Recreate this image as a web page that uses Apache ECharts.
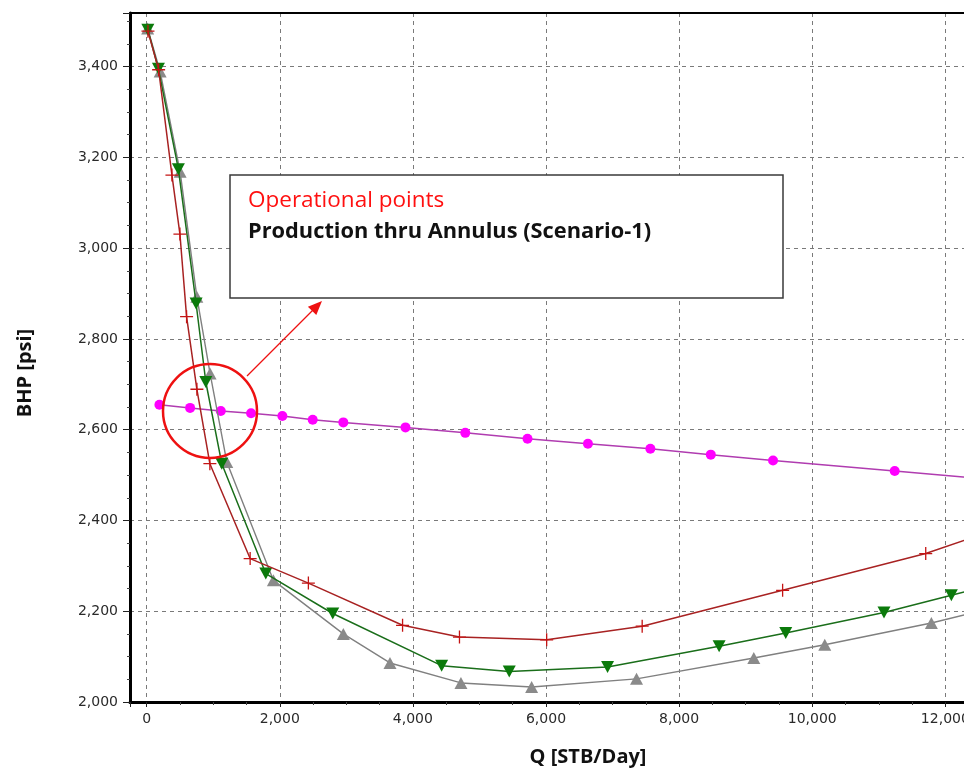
<!DOCTYPE html>
<html>
<head>
<meta charset="utf-8">
<script src="https://cdn.jsdelivr.net/npm/echarts@6/dist/echarts.min.js"></script>
<style>
  html, body { margin: 0; padding: 0; background: #fff; }
  #chart { width: 975px; height: 776px; }
</style>
</head>
<body>
<div id="chart"></div>
<script>
// Tubing performance curves (Q in STB/Day, BHP in psi)
const qRed = [20, 180, 380, 500, 600, 755, 950, 1555, 2430, 3845, 4700, 6010, 7445, 9555, 11705, 12700];
const pRed = [3478, 3393, 3161, 3031, 2849, 2689, 2525, 2316, 2262, 2169, 2143, 2137, 2167, 2246, 2327, 2377];

const qGreen = [18, 177, 477, 743, 889, 1129, 1790, 2796, 4432, 5448, 6925, 8601, 9602, 11078, 12090, 12700];
const pGreen = [3481, 3395, 3174, 2878, 2705, 2525, 2283, 2195, 2080, 2067, 2077, 2123, 2152, 2197, 2235, 2258];

const qGray = [15, 203, 503, 754, 953, 1204, 1904, 2955, 3656, 4722, 5784, 7360, 9122, 10188, 11790, 12700];
const pGray = [3484, 3389, 3168, 2893, 2724, 2529, 2268, 2150, 2086, 2042, 2033, 2051, 2097, 2126, 2174, 2207];

// Inflow performance relationship
const qIpr = [192, 653, 1114, 1569, 2039, 2495, 2955, 3889, 4787, 5722, 6630, 7568, 8476, 9411, 11239, 12700];
const pIpr = [2655, 2648, 2641, 2636, 2630, 2622, 2616, 2605, 2593, 2580, 2569, 2558, 2545, 2532, 2509, 2490];

// Axis ranges and tick steps
const xRange = [-250, 12280];
const xStep = 2000;
const yRange = [2000, 3518];
const yStep = 200;

const xTitle = 'Q [STB/Day]';
const yTitle = 'BHP [psi]';
const noteTitle = 'Operational points';
const noteText = 'Production thru Annulus (Scenario-1)';

const pairs = (xs, ys) => xs.map((x, i) => [x, ys[i]]);
const thousands = v => String(v).replace(/\B(?=(\d{3})+(?!\d))/g, ',');

const plusPath = 'path://M9,0H11V9H20V11H11V20H9V11H0V9H9Z';

const chart = echarts.init(document.getElementById('chart'), null, { renderer: 'canvas' });

const tickFont = { fontFamily: 'DejaVu Sans', fontSize: 14, color: '#2a2a2a' };
const gridLine = { show: true, showMinLine: false, showMaxLine: false,
  lineStyle: { type: [4, 4], color: '#7a7a7a', width: 1 } };

chart.setOption({
  animation: false,
  backgroundColor: '#fff',
  grid: { left: 130, right: 11, top: 13, bottom: 74, containLabel: false },
  xAxis: [{
    type: 'value', min: xRange[0], max: xRange[1], splitNumber: 6,
    axisLine: { show: true, onZero: false, lineStyle: { color: '#000', width: 3 } },
    axisTick: { show: true, length: 5, lineStyle: { color: '#222', width: 1 } },
    minorTick: { show: true, splitNumber: 4, length: 3, lineStyle: { color: '#444', width: 1 } },
    axisLabel: Object.assign({}, tickFont, {
      margin: 10, showMinLabel: false, showMaxLabel: false,
      formatter: v => (v >= 0 && v % xStep === 0) ? thousands(v) : ''
    }),
    splitLine: gridLine
  }, {
    type: 'value', position: 'top', min: xRange[0], max: xRange[1],
    axisLine: { show: true, onZero: false, lineStyle: { color: '#000', width: 2 } },
    axisTick: { show: false }, axisLabel: { show: false }, splitLine: { show: false }
  }],
  yAxis: {
    type: 'value', min: yRange[0], max: yRange[1], interval: yStep,
    axisLine: { show: true, onZero: false, lineStyle: { color: '#000', width: 3 } },
    axisTick: { show: true, length: 7, lineStyle: { color: '#222', width: 1 } },
    minorTick: { show: true, splitNumber: 4, length: 3, lineStyle: { color: '#444', width: 1 } },
    axisLabel: Object.assign({}, tickFont, {
      margin: 12, showMaxLabel: false,
      formatter: v => (v % yStep === 0) ? thousands(v) : ''
    }),
    splitLine: gridLine
  },
  series: [
    {
      type: 'line', name: 'IPR', data: pairs(qIpr, pIpr), clip: true, z: 2,
      symbol: 'circle', symbolSize: 10,
      lineStyle: { color: '#b03cb0', width: 1.5 },
      itemStyle: { color: '#ff00ff' }
    },
    {
      type: 'line', name: 'Gray', data: pairs(qGray, pGray), clip: true, z: 3,
      symbol: 'triangle', symbolSize: [13, 12],
      lineStyle: { color: '#808080', width: 1.4 },
      itemStyle: { color: '#8a8a8a' }
    },
    {
      type: 'line', name: 'Green', data: pairs(qGreen, pGreen), clip: true, z: 4,
      symbol: 'triangle', symbolRotate: 180, symbolSize: [13, 12],
      lineStyle: { color: '#1a6e1a', width: 1.5 },
      itemStyle: { color: '#0b7a0b' }
    },
    {
      type: 'line', name: 'Red', data: pairs(qRed, pRed), clip: true, z: 5,
      symbol: plusPath, symbolSize: 13,
      lineStyle: { color: '#a82222', width: 1.5 },
      itemStyle: { color: '#c41414' }
    }
  ],
  graphic: { elements: [
    // annotation box
    { type: 'rect', z: 20, shape: { x: 230, y: 175, width: 553, height: 123 },
      style: { fill: '#fff', stroke: '#3a3a3a', lineWidth: 1.5 } },
    { type: 'text', z: 21, x: 248, y: 201,
      style: { text: noteTitle, fill: '#ff1010', font: '22.5px "Open Sans"', align: 'left', verticalAlign: 'middle' } },
    { type: 'text', z: 21, x: 248, y: 232,
      style: { text: noteText, fill: '#111', font: 'bold 21.8px "Open Sans"', align: 'left', verticalAlign: 'middle' } },
    // highlight circle and pointer
    { type: 'circle', z: 22, shape: { cx: 210, cy: 411, r: 47 },
      style: { fill: 'transparent', stroke: '#ee1111', lineWidth: 2.5 } },
    { type: 'line', z: 22, shape: { x1: 247, y1: 376, x2: 314, y2: 309 },
      style: { stroke: '#ee1111', lineWidth: 1.3 } },
    { type: 'polygon', z: 22, shape: { points: [[322, 301], [316.3, 315.1], [307.9, 306.7]] },
      style: { fill: '#ee1111' } },
    // axis titles
    { type: 'text', z: 21, x: 588, y: 757,
      style: { text: xTitle, fill: '#111', font: 'bold 20px "Open Sans"', align: 'center', verticalAlign: 'middle' } },
    { type: 'text', z: 21, x: 25, y: 373, rotation: Math.PI / 2,
      style: { text: yTitle, fill: '#111', font: 'bold 20px "Open Sans"', align: 'center', verticalAlign: 'middle' } },
    // cropped right margin
    { type: 'rect', z: 100, shape: { x: 964, y: 0, width: 11, height: 776 },
      style: { fill: '#fff' } }
  ] }
});
</script>
</body>
</html>
